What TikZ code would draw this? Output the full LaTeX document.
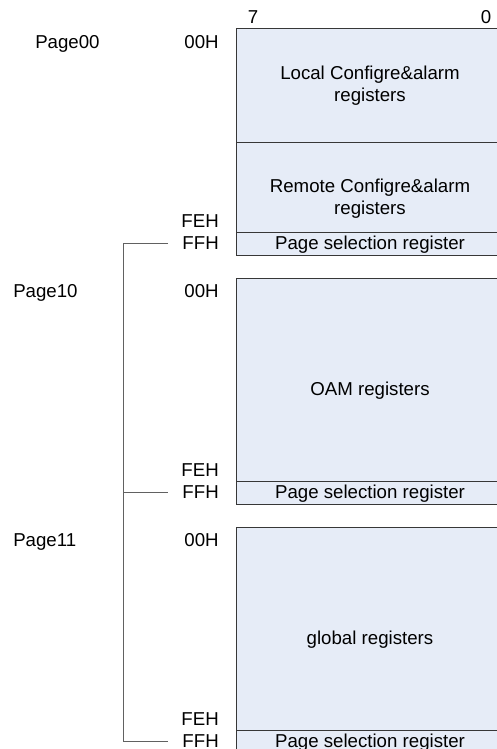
\documentclass[tikz,border=0pt]{standalone}
\usepackage{fontspec}
\setmainfont{Liberation Sans}
\usetikzlibrary{positioning}
\definecolor{regfill}{RGB}{230,236,247}
\definecolor{regline}{RGB}{55,55,55}
\tikzset{
  regbox/.style={draw=regline, line width=0.75pt, fill=regfill},
  regsep/.style={draw=regline, line width=0.75pt},
  regtext/.style={font=\fontsize{14}{16.5}\selectfont, align=center, inner sep=0pt},
  addr/.style={font=\fontsize{14}{16.5}\selectfont, anchor=base east, inner sep=0pt},
  pagelbl/.style={font=\fontsize{14}{16.5}\selectfont, anchor=base west, inner sep=0pt},
  brk/.style={draw=black!62, line width=0.75pt},
}

\begin{document}
\begin{tikzpicture}[x=0.75pt, y=-0.75pt]
  \useasboundingbox (0,0) rectangle (496,749);
  % bit numbers over the register column
  \node[regtext, anchor=base] (bit7) at (253,23.5) {7};
  \node[regtext, anchor=base] (bit0) at (486,23.5) {0};
  % one page: frame, page selection register, addresses
  \foreach \i/\t/\pg/\px in {0/29/Page00/35, 1/278/Page10/13, 2/527/Page11/13} {
    \draw[regbox] (236,\t) rectangle (504,\t+226);
    \draw[regsep] (236,\t+203) -- (504,\t+203);
    \node[regtext, anchor=base] (ps\i) at (370,\t+220.5) {Page selection register};
    \node[pagelbl] (page\i) at (\px,\t+19.5) {\pg};
    \node[addr] (lo\i) at (219,\t+19.5) {00H};
    \node[addr] (feh\i) at (219,\t+198) {FEH};
    \node[addr] (ffh\i) at (219,\t+220.5) {FFH};
    \coordinate (tap\i) at (168,\t+214.5);
    \coordinate (spine\i) at (123,\t+214.5);
  }
  % register groups
  \draw[regsep] (236,142) -- (504,142);
  \node[regtext] (local) at (370,86) {Local Configre\&alarm\\registers};
  \node[regtext] (remote) at (370,198.5) {Remote Configre\&alarm\\registers};
  \node[regtext] (oam) at (370,390.5) {OAM registers};
  \node[regtext] (global) at (370,640) {global registers};
  % page bracket
  \draw[brk] (tap0) -- (spine0) -- (spine2) -- (tap2);
  \draw[brk] (spine1) -- (tap1);
\end{tikzpicture}
\end{document}
